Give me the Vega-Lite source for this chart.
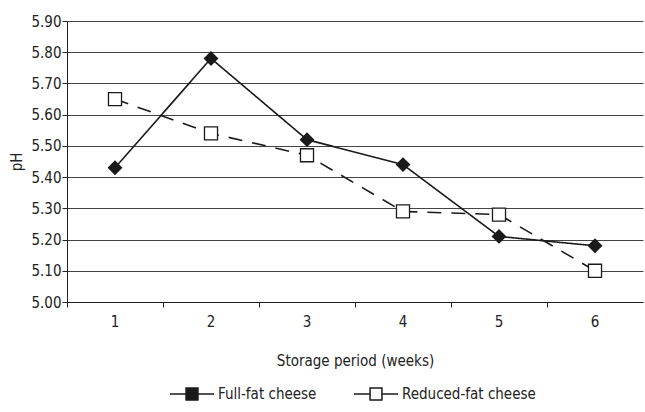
{
  "$schema": "https://vega.github.io/schema/vega-lite/v6.json",
  "width": 576,
  "height": 281,
  "autosize": "none",
  "padding": {"left": 67, "top": 21, "right": 2, "bottom": 110},
  "background": "white",
  "config": {
    "font": "DejaVu Sans Condensed",
    "view": {"stroke": null},
    "axis": {"labelFont": "DejaVu Sans Condensed", "titleFont": "DejaVu Sans Condensed", "labelFontSize": 15, "titleFontSize": 15, "titleFontWeight": "normal", "labelColor": "#222", "titleColor": "#222", "domainColor": "#222", "tickColor": "#222"},
    "legend": {
      "labelFont": "DejaVu Sans Condensed", "labelFontSize": 15, "labelColor": "#222",
      "orient": "none", "direction": "horizontal", "legendX": 102, "legendY": 350,
      "symbolSize": 1936, "symbolStrokeWidth": 1.5, "symbolStrokeColor": "#1a1a1a", "labelOffset": 3, "columnPadding": 34
    }
  },
  "data": {
    "values": [
      {"week": 1, "series": "Full-fat cheese", "ph": 5.43},
      {"week": 2, "series": "Full-fat cheese", "ph": 5.78},
      {"week": 3, "series": "Full-fat cheese", "ph": 5.52},
      {"week": 4, "series": "Full-fat cheese", "ph": 5.44},
      {"week": 5, "series": "Full-fat cheese", "ph": 5.21},
      {"week": 6, "series": "Full-fat cheese", "ph": 5.18},
      {"week": 1, "series": "Reduced-fat cheese", "ph": 5.65},
      {"week": 2, "series": "Reduced-fat cheese", "ph": 5.54},
      {"week": 3, "series": "Reduced-fat cheese", "ph": 5.47},
      {"week": 4, "series": "Reduced-fat cheese", "ph": 5.29},
      {"week": 5, "series": "Reduced-fat cheese", "ph": 5.28},
      {"week": 6, "series": "Reduced-fat cheese", "ph": 5.10}
    ]
  },
  "encoding": {
    "y": {
      "field": "ph",
      "type": "quantitative",
      "scale": {"domain": [5.0, 5.9], "zero": false, "nice": false},
      "axis": {"title": "pH", "format": ".2f", "values": [5.0, 5.1, 5.2, 5.3, 5.4, 5.5, 5.6, 5.7, 5.8, 5.9], "grid": true, "gridColor": "#444", "gridWidth": 1, "tickSize": 5, "labelPadding": 1, "titlePadding": 6, "domainWidth": 1}
    }
  },
  "layer": [
    {
      "mark": {"type": "line", "color": "#1a1a1a", "strokeWidth": 1.6},
      "encoding": {
        "x": {"field": "week", "type": "ordinal", "scale": {"type": "band", "paddingInner": 0, "paddingOuter": 0},
          "axis": {"orient": "bottom", "title": "Storage period (weeks)", "labelAngle": 0, "ticks": false, "domain": false, "labelPadding": 12, "titlePadding": 24, "grid": false}},
        "detail": {"field": "series"},
        "strokeDash": {"condition": {"test": "datum.series === 'Reduced-fat cheese'", "value": [14, 10]}, "value": [1, 0]}
      }
    },
    {
      "mark": {"type": "point", "filled": true, "stroke": "#1a1a1a", "strokeWidth": 1.3, "opacity": 1, "size": 170},
      "encoding": {
        "x": {"field": "week", "type": "ordinal", "scale": {"type": "band", "paddingInner": 0, "paddingOuter": 0},
          "axis": {"orient": "bottom", "title": null, "labels": false, "bandPosition": 0, "ticks": true, "tickSize": 5, "domain": true, "grid": false}},
        "shape": {"condition": {"test": "datum.series === 'Full-fat cheese'", "value": "diamond"}, "value": "square"},
        "fill": {"field": "series", "type": "nominal", "scale": {"domain": ["Full-fat cheese", "Reduced-fat cheese"], "range": ["#1a1a1a", "white"]},
          "legend": {"title": null,
            "symbolType": "M-1,0H-0.27M0.27,0H1M-0.27,-0.27H0.27V0.27H-0.27Z",
            "encode": {"symbols": {
              "shape": {"value": {"expr": "datum.value === 'Full-fat cheese' ? 'M-1,0H1M0,-0.16L0.16,0L0,0.16L-0.16,0Z' : 'M-0.9,0H-0.55M-0.27,-0.27H0.27V0.27H-0.27ZM0.27,0H0.88'"}},
              "stroke": {"value": "#1a1a1a"}}}}}
      }
    }
  ],
  "resolve": {"axis": {"x": "independent"}}
}
